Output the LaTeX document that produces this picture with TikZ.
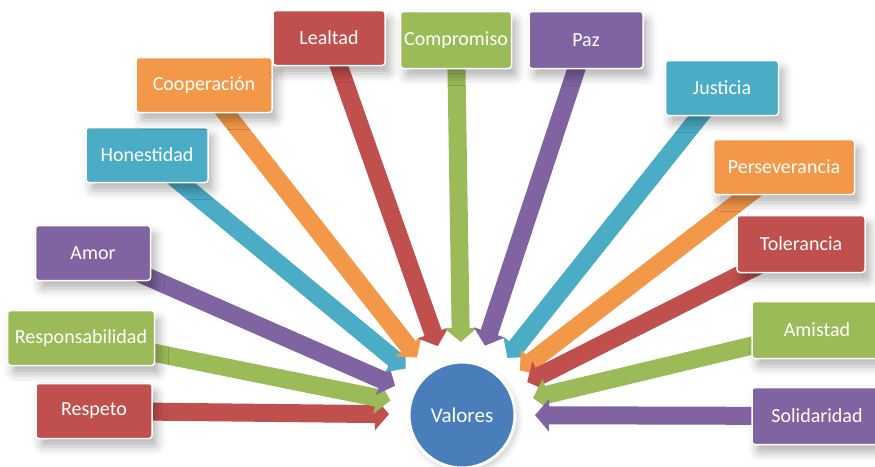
\documentclass[tikz,border=0pt]{standalone}
\usepackage{fontspec}
\setmainfont{Carlito}
\usetikzlibrary{arrows.meta,shadows.blur,backgrounds}
\definecolor{rojo}{HTML}{C0504D}
\definecolor{naranja}{HTML}{F39849}
\definecolor{celeste}{HTML}{4BACC6}
\definecolor{morado}{HTML}{8064A2}
\definecolor{verde}{HTML}{9BBB59}
\definecolor{azul}{HTML}{4A7EBB}

\begin{document}
\begin{tikzpicture}[x=1pt,y=-1pt,
        caja/.style={draw=white, line width=1.5pt, rounded corners=3pt, fill=#1, text=white,
            minimum height=55pt, inner xsep=3pt, font=\fontsize{20}{24}\selectfont,
            blur shadow={shadow xshift=5pt, shadow yshift=-8pt, shadow blur radius=9pt, shadow opacity=30}},
        flecha/.style={draw=#1, line width=18pt, -{Triangle[width=32pt,length=14pt]}, shorten >=20pt}]
        \useasboundingbox (0,0) rectangle (875,466);
        \node[circle, draw=white, line width=3pt, fill=azul, text=white, minimum size=106pt, outer sep=0pt,
            font=\fontsize{21}{25}\selectfont,
            blur shadow={shadow xshift=3pt, shadow yshift=-4pt, shadow blur radius=6pt, shadow opacity=20}] (val) at (462,415) {Valores};
        % izquierda
        \node[caja=rojo, minimum width=116pt] (respeto) at (94,411) {Respeto};
        \node[caja=verde, minimum width=147pt] (respons) at (81,338) {Responsabilidad};
        \node[caja=morado, minimum width=115pt] (amor) at (93,253) {Amor};
        \node[caja=celeste, minimum width=122pt] (honest) at (147,155) {Honestidad};
        \node[caja=naranja, minimum width=136pt] (coop) at (204,85) {Cooperación};
        % arriba
        \node[caja=rojo, minimum width=112pt] (lealtad) at (329,38) {Lealtad};
        \node[caja=verde, minimum width=111pt, minimum height=57pt] (comprom) at (456,40) {Compromiso};
        \node[caja=morado, minimum width=114pt, minimum height=57pt] (paz) at (586,40) {Paz};
        % derecha
        \node[caja=celeste, minimum width=113pt] (justicia) at (722,88) {Justicia};
        \node[caja=naranja, minimum width=141pt] (persev) at (784,167) {Perseverancia};
        \node[caja=rojo, minimum width=128pt, minimum height=57pt] (toler) at (801,244) {Tolerancia};
        \node[caja=verde, minimum width=130pt, minimum height=57pt] (amistad) at (817,330) {Amistad};
        \node[caja=morado, minimum width=130pt, minimum height=57pt] (solid) at (817,416) {Solidaridad};
        \begin{pgfonlayer}{background}
            \draw[flecha=rojo] (respeto.center) -- (val);
            \draw[flecha=verde] (respons.center) -- (val);
            \draw[flecha=morado] (amor.center) -- (val);
            \draw[flecha=celeste] (honest.center) -- (val);
            \draw[flecha=naranja] (coop.center) -- (val);
            \draw[flecha=rojo] (lealtad.center) -- (val);
            \draw[flecha=verde] (comprom.center) -- (val);
            \draw[flecha=morado] (paz.center) -- (val);
            \draw[flecha=celeste] (justicia.center) -- (val);
            \draw[flecha=naranja] (persev.center) -- (val);
            \draw[flecha=rojo] (toler.center) -- (val);
            \draw[flecha=verde] (amistad.center) -- (val);
            \draw[flecha=morado] (solid.center) -- (val);
        \end{pgfonlayer}
    \end{tikzpicture}
\end{document}
